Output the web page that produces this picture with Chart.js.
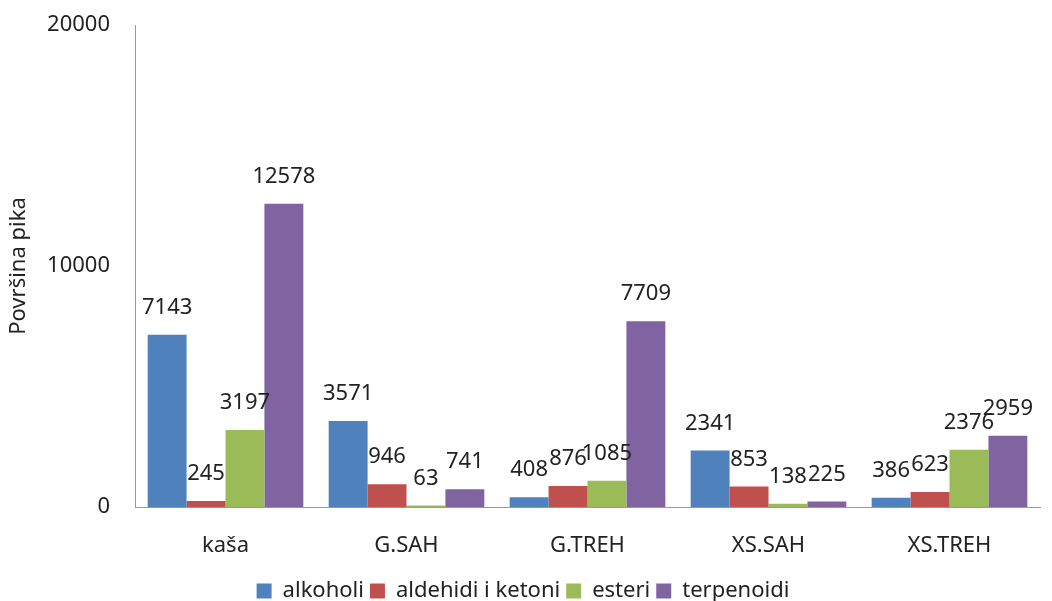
<!DOCTYPE html>
<html>
<head>
<meta charset="utf-8">
<script src="https://cdn.jsdelivr.net/npm/chart.js@4/dist/chart.umd.min.js"></script>
<style>
  html, body { margin: 0; padding: 0; background: #fff; }
  #wrap { width: 1052px; height: 601px; }
</style>
</head>
<body>
<div id="wrap"><canvas id="chart"></canvas></div>
<script>
const categories = ['kaša', 'G.SAH', 'G.TREH', 'XS.SAH', 'XS.TREH'];
const alkoholi = [7143, 3571, 408, 2341, 386];
const aldehidiKetoni = [245, 946, 876, 853, 623];
const esteri = [3197, 63, 1085, 138, 2376];
const terpenoidi = [12578, 741, 7709, 225, 2959];
const yTicks = [0, 10000, 20000];

const fontFamily = '"Noto Sans", "Open Sans", sans-serif';
const fontSize = 22;

// draws the value above every bar
const valueLabels = {
    id: 'valueLabels',
    afterDatasetsDraw(chart) {
        const ctx = chart.ctx;
        ctx.save();
        ctx.font = `${fontSize}px ${fontFamily}`;
        ctx.fillStyle = '#222';
        ctx.textAlign = 'center';
        ctx.textBaseline = 'bottom';
        chart.data.datasets.forEach((ds, i) => {
            chart.getDatasetMeta(i).data.forEach((bar, j) => {
                ctx.fillText(String(ds.data[j]), bar.x, bar.y - 16);
            });
        });
        ctx.restore();
    }
};

new Chart(document.getElementById('chart'), {
    type: 'bar',
    data: {
        labels: categories,
        datasets: [
            { label: 'alkoholi', data: alkoholi, backgroundColor: '#4F81BD' },
            { label: 'aldehidi i ketoni', data: aldehidiKetoni, backgroundColor: '#C0504D' },
            { label: 'esteri', data: esteri, backgroundColor: '#9BBB59' },
            { label: 'terpenoidi', data: terpenoidi, backgroundColor: '#8064A2' }
        ]
    },
    options: {
        responsive: true,
        maintainAspectRatio: false,
        animation: false,
        datasets: {
            bar: { categoryPercentage: 0.86, barPercentage: 1.0 }
        },
        layout: { padding: { left: 6, right: 12, top: 25, bottom: -11 } },
        plugins: {
            tooltip: { enabled: false },
            legend: {
                position: 'bottom',
                labels: {
                    boxWidth: 15,
                    boxHeight: 15,
                    padding: 6,
                    color: '#222',
                    font: { family: fontFamily, size: fontSize }
                }
            }
        },
        scales: {
            x: {
                grid: { display: false, drawTicks: false },
                border: { color: '#999' },
                afterFit: axis => { axis.height = 67; },
                ticks: {
                    color: '#222',
                    padding: 26,
                    font: { family: fontFamily, size: fontSize }
                }
            },
            y: {
                min: 0,
                max: 20000,
                afterBuildTicks: axis => { axis.ticks = yTicks.map(v => ({ value: v })); },
                afterFit: axis => {
                    axis.width = 129;
                    axis.paddingTop = 0;
                    axis.paddingBottom = 0;
                },
                grid: { display: false, drawTicks: false },
                border: { color: '#999' },
                title: {
                    display: true,
                    text: 'Površina pika',
                    color: '#222',
                    padding: { top: 0, bottom: 0 },
                    font: { family: fontFamily, size: fontSize }
                },
                ticks: {
                    color: '#222',
                    padding: 25,
                    callback: v => String(v),
                    font: { family: fontFamily, size: fontSize }
                }
            }
        }
    },
    plugins: [valueLabels]
});
</script>
</body>
</html>
